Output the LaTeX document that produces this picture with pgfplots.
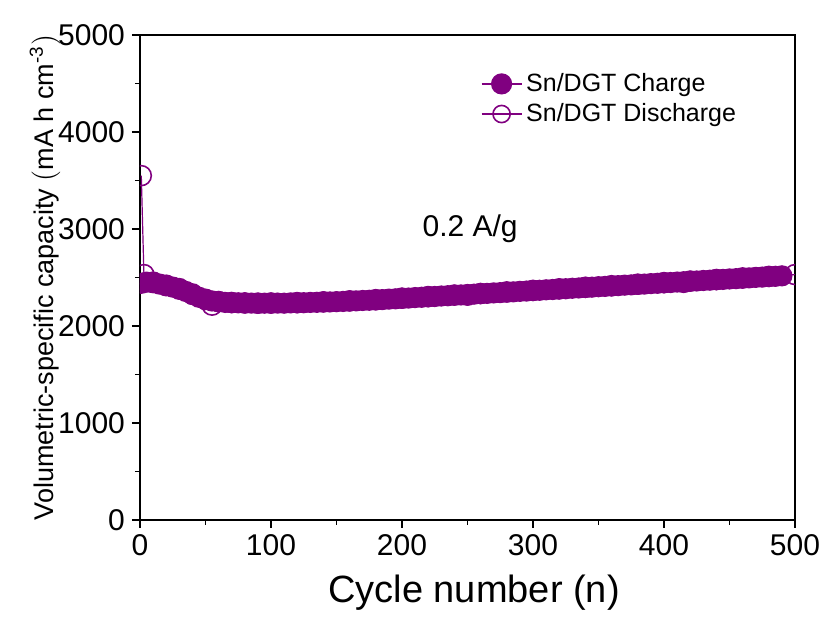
\documentclass[border=0pt]{standalone}
\usepackage{fontspec}
\setmainfont{Liberation Sans}
\usepackage{pgfplots}
\pgfplotsset{compat=1.18}
\definecolor{dgt}{RGB}{128,0,128}
\begin{document}
\begin{tikzpicture}
\begin{axis}[
  scale only axis,
  width=327.5pt, height=242.5pt,
  xmin=0, xmax=500, ymin=0, ymax=5000,
  xtick={0,100,...,500}, ytick={0,1000,...,5000},
  minor x tick num=1, minor y tick num=1,
  tick pos=left, tick align=outside,
  major tick length=4pt, minor tick length=2.5pt,
  every tick/.style={black, line width=0.8pt},
  axis line style={line width=1pt},
  /pgf/number format/assume math mode=true,
  /pgf/number format/1000 sep={},
  ticklabel style={font=\fontsize{15}{18}\selectfont},
  xlabel={Cycle number (n)},
  ylabel={Volumetric-specific capacity $\big($mA h cm\textsuperscript{-3}$\big)$},
  every axis x label/.style={at={(axis description cs:0.51,-0.15)}, anchor=center, font=\fontsize{19}{22}\selectfont},
  every axis y label/.style={at={(axis description cs:-0.145,0.5)}, rotate=90, anchor=center, font=\fontsize{13.5}{16}\selectfont},
  clip mode=individual,
  clip marker paths=true,
  legend image code/.code={\draw[mark repeat=2,mark phase=2,#1] plot coordinates {(0pt,0pt) (10pt,0pt) (20pt,0pt)};},
  legend style={at={(axis description cs:0.52,0.93)}, anchor=north west, draw=none, fill=none, inner sep=0pt,
    font=\fontsize{12.5}{15}\selectfont, row sep=0.5pt, nodes={inner sep=2pt}},
  legend cell align=left,
]
\addplot[dgt, line width=0.6pt, mark=o, mark size=5pt, mark options={fill=white, draw=dgt, line width=0.8pt}, forget plot] coordinates {
(1,3550)(3,2530)(10,2452)(20,2420)(30,2385)(40,2330)(50,2275)(55,2215)(60,2252)(70,2242)(80,2238)
(90,2236)(100,2237)(120,2241)(140,2249)(160,2259)(180,2271)(200,2287)(220,2303)(240,2319)(250,2318)
(260,2335)(280,2351)(300,2367)(320,2383)(340,2399)(360,2415)(380,2431)(400,2447)(415,2450)(420,2463)
(440,2479)(460,2495)(480,2511)(500,2530)
};
\addplot[dgt, line width=0.6pt, mark=*, mark size=5pt, mark options={fill=dgt, draw=dgt}] coordinates {
(1,2440)(5,2452)(10,2446)(15,2432)(20,2414)(25,2401)(30,2378)(35,2356)(40,2324)(45,2296)
(50,2272)(55,2258)(60,2250)(65,2243)(70,2240)(75,2239)(80,2236)(85,2236)(90,2233)(95,2235)
(100,2235)(105,2236)(110,2235)(115,2238)(120,2239)(125,2240)(130,2243)(135,2244)(140,2247)(145,2248)
(150,2251)(155,2253)(160,2257)(165,2259)(170,2263)(175,2265)(180,2269)(185,2272)(190,2277)(195,2280)
(200,2285)(205,2288)(210,2293)(215,2296)(220,2301)(225,2304)(230,2309)(235,2312)(240,2317)(245,2320)
(250,2325)(255,2328)(260,2333)(265,2336)(270,2341)(275,2344)(280,2349)(285,2352)(290,2357)(295,2360)
(300,2365)(305,2368)(310,2373)(315,2376)(320,2381)(325,2384)(330,2389)(335,2392)(340,2397)(345,2400)
(350,2405)(355,2408)(360,2413)(365,2416)(370,2421)(375,2424)(380,2429)(385,2432)(390,2437)(395,2440)
(400,2445)(405,2448)(410,2453)(415,2456)(420,2461)(425,2464)(430,2469)(435,2472)(440,2477)(445,2480)
(450,2485)(455,2488)(460,2493)(465,2496)(470,2501)(475,2504)(480,2509)(485,2512)(490,2517)
};
\addlegendentry{Sn/DGT Charge}
\addlegendimage{dgt, line width=0.6pt, mark=o, mark size=4.3pt, mark options={fill=white, draw=dgt, line width=0.8pt}}
\addlegendentry{Sn/DGT Discharge}
\node[font=\fontsize{15}{18}\selectfont] at (axis cs:252,3000) {0.2 A/g};
\coordinate (ll) at (rel axis cs:0,0);
\coordinate (ur) at (rel axis cs:1,1);
\end{axis}
\pgfresetboundingbox
\path[use as bounding box] ([shift={(-70pt,-48.5pt)}]ll) rectangle ([shift={(15pt,17.5pt)}]ur);
\end{tikzpicture}
\end{document}
